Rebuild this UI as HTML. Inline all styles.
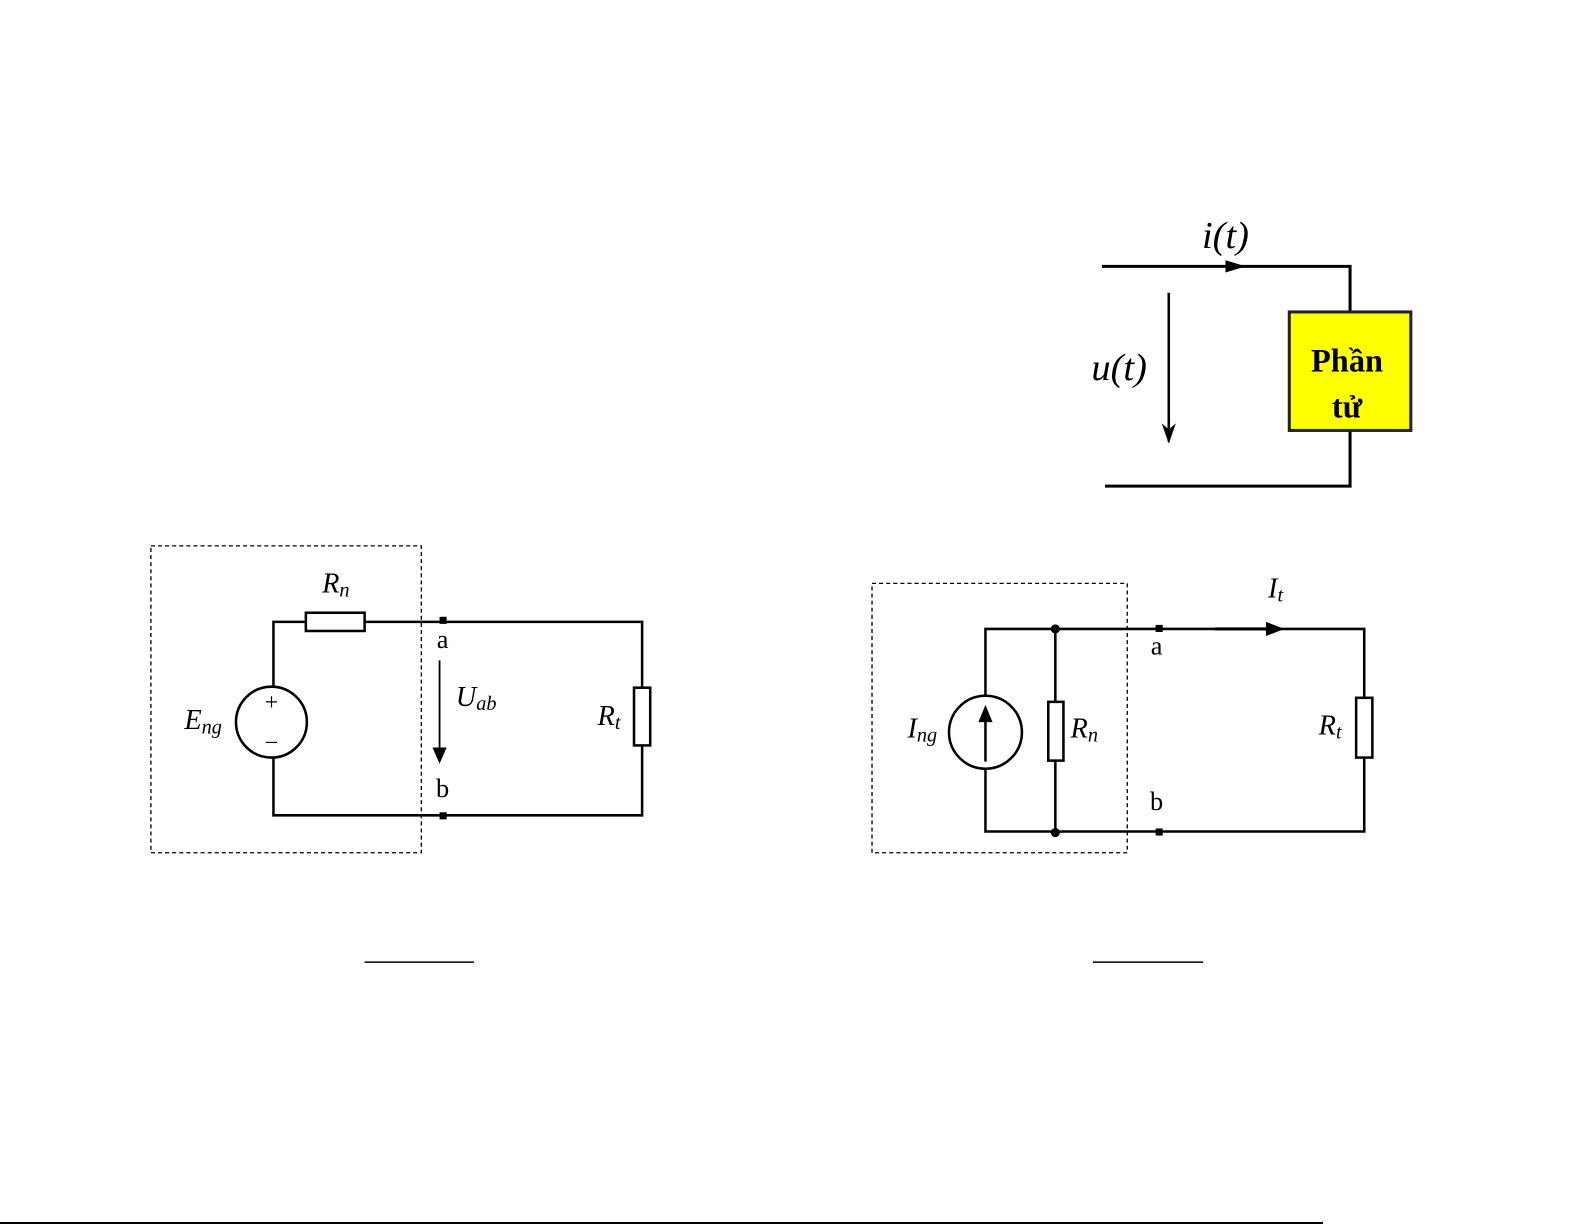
<!DOCTYPE html>
<html><head><meta charset="utf-8"><style>
html,body{margin:0;padding:0;background:#fff;}
svg{display:block;}
text{font-family:"Liberation Serif",serif;fill:#000;}
</style></head><body>
<svg width="1585" height="1225" viewBox="0 0 1585 1225" xmlns="http://www.w3.org/2000/svg">
<g transform="scale(1.0128)">
<!-- Top right element -->
<g stroke="#000" stroke-width="3" fill="none">
<polyline points="1088,263 1333,263 1333,308"/>
<polyline points="1091,480 1333,480 1333,425"/>
<line x1="1154" y1="289" x2="1154" y2="436" stroke-width="2.5"/>
</g>
<path d="M1210,257 L1230,263 L1210,269 z" fill="#000"/>
<path d="M1147,418 L1154,438 L1161,418 L1154,424 z" fill="#000"/>
<rect x="1273" y="308" width="120" height="117" fill="#ffff00" stroke="#222" stroke-width="3"/>
<text x="1330" y="367" font-size="32" font-weight="bold" text-anchor="middle">Phần</text>
<text x="1330" y="412" font-size="32" font-weight="bold" text-anchor="middle">tử</text>
<text x="1210" y="245" font-size="38" font-style="italic" text-anchor="middle">i(t)</text>
<text x="1105" y="375" font-size="38" font-style="italic" text-anchor="middle">u(t)</text>

<!-- Left circuit -->
<rect x="149" y="539" width="267" height="303" fill="none" stroke="#000" stroke-width="1.3" stroke-dasharray="4,3"/>
<g stroke="#000" stroke-width="2.5" fill="none">
<polyline points="270,678 270,614 302,614"/>
<polyline points="360,614 634,614 634,679"/>
<polyline points="270,748 270,805 634,805 634,736"/>
<rect x="302" y="605" width="58" height="18" fill="#fff"/>
<rect x="626" y="679" width="16" height="57" fill="#fff"/>
<circle cx="268" cy="713" r="35"/>
<line x1="434" y1="652" x2="434" y2="740" stroke-width="1.8"/>
</g>
<path d="M427,738 L434,754 L441,738 z" fill="#000"/>
<rect x="434" y="609" width="7" height="7" fill="#000"/>
<rect x="434" y="802" width="7" height="7" fill="#000"/>
<text x="268" y="701" font-size="24" text-anchor="middle">+</text>
<text x="268" y="741" font-size="24" text-anchor="middle">−</text>
<text x="318" y="585" font-size="28" font-style="italic">R<tspan font-size="20" dy="4">n</tspan></text>
<text x="182" y="720" font-size="28" font-style="italic">E<tspan font-size="20" dy="4">ng</tspan></text>
<text x="450" y="697" font-size="28" font-style="italic">U<tspan font-size="20" dy="4">ab</tspan></text>
<text x="590" y="716" font-size="28" font-style="italic">R<tspan font-size="20" dy="4">t</tspan></text>
<text x="437" y="640" font-size="26" text-anchor="middle">a</text>
<text x="437" y="787" font-size="26" text-anchor="middle">b</text>

<!-- Right circuit -->
<rect x="861" y="576" width="252" height="266" fill="none" stroke="#000" stroke-width="1.3" stroke-dasharray="4,3"/>
<g stroke="#000" stroke-width="2.5" fill="none">
<polyline points="973,687 973,621 1347,621 1347,689"/>
<polyline points="973,759 973,821 1347,821 1347,748"/>
<line x1="1042" y1="621" x2="1042" y2="693"/>
<line x1="1042" y1="751" x2="1042" y2="821"/>
<rect x="1035" y="693" width="15" height="58" fill="#fff"/>
<rect x="1339" y="689" width="16" height="59" fill="#fff"/>
<circle cx="973" cy="723" r="36"/>
<line x1="973" y1="752" x2="973" y2="710"/>
<line x1="1200" y1="621" x2="1255" y2="621" stroke-width="3"/>
</g>
<path d="M966,713 L973,696 L980,713 z" fill="#000"/>
<path d="M1250,614 L1268,621 L1250,628 z" fill="#000"/>
<circle cx="1042" cy="621" r="4.5" fill="#000"/>
<circle cx="1042" cy="822" r="4.5" fill="#000"/>
<rect x="1141" y="617" width="7" height="7" fill="#000"/>
<rect x="1141" y="818" width="7" height="7" fill="#000"/>
<text x="1252" y="590" font-size="28" font-style="italic">I<tspan font-size="20" dy="4">t</tspan></text>
<text x="896" y="728" font-size="28" font-style="italic">I<tspan font-size="20" dy="4">ng</tspan></text>
<text x="1057" y="728" font-size="28" font-style="italic">R<tspan font-size="20" dy="4">n</tspan></text>
<text x="1302" y="725" font-size="28" font-style="italic">R<tspan font-size="20" dy="4">t</tspan></text>
<text x="1142" y="646" font-size="26" text-anchor="middle">a</text>
<text x="1142" y="800" font-size="26" text-anchor="middle">b</text>

<line x1="360" y1="950" x2="468" y2="950" stroke="#000" stroke-width="1.5"/>
<line x1="1079" y1="950" x2="1188" y2="950" stroke="#000" stroke-width="1.5"/>
</g>
<line x1="0" y1="1223" x2="1323" y2="1223" stroke="#000" stroke-width="2"/>
</svg>
</body></html>
